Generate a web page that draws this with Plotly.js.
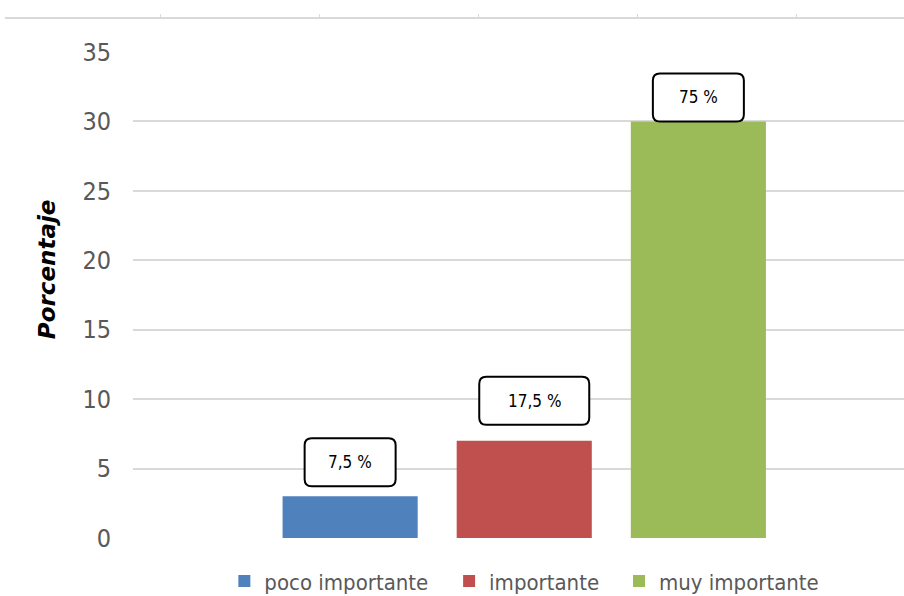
<!DOCTYPE html>
<html>
<head>
<meta charset="utf-8">
<script src="https://cdn.plot.ly/plotly-3.0.1.min.js"></script>
<style>
html,body{margin:0;padding:0;background:#fff;}
#chart{width:904px;height:596px;}
</style>
</head>
<body>
<div id="chart"></div>
<script>
// ---- data ----
var categories = ["poco importante", "importante", "muy importante"];
var values = [3, 7, 30];
var labels = ["7,5 %", "17,5 %", "75 %"];
var yTicks = [0, 5, 10, 15, 20, 25, 30, 35];
var yTitle = "Porcentaje";

// ---- styles ----
var colors = ["#4F81BD", "#C0504D", "#9BBB59"];
var boxW = [91, 110, 91];
var boxH = 48;
var boxGap = [10, 16, 0];
var boxDx = [0, 10, 0];
var legendX = [0.244, 0.494, 0.683];
var narrow = "Liberation Sans Narrow, DejaVu Sans Condensed, Arial Narrow, sans-serif";

var traces = categories.map(function (c, i) {
  return {
    type: "bar",
    name: c,
    x: [i],
    y: [values[i]],
    width: 0.776,
    marker: {color: colors[i]},
    hoverinfo: "none",
    legend: i === 0 ? "legend" : "legend" + (i + 1)
  };
});

function roundRect(w, h, g, dx, r) {
  var x0 = dx - w / 2, x1 = dx + w / 2, y0 = g, y1 = g + h;
  return "M" + (x0 + r) + "," + y0 +
    " L" + (x1 - r) + "," + y0 + " Q" + x1 + "," + y0 + " " + x1 + "," + (y0 + r) +
    " L" + x1 + "," + (y1 - r) + " Q" + x1 + "," + y1 + " " + (x1 - r) + "," + y1 +
    " L" + (x0 + r) + "," + y1 + " Q" + x0 + "," + y1 + " " + x0 + "," + (y1 - r) +
    " L" + x0 + "," + (y0 + r) + " Q" + x0 + "," + y0 + " " + (x0 + r) + "," + y0 + " Z";
}

var shapes = [], annotations = [];
categories.forEach(function (c, i) {
  shapes.push({
    type: "path",
    xref: "x", yref: "y",
    xsizemode: "pixel", ysizemode: "pixel",
    xanchor: i, yanchor: values[i],
    path: roundRect(boxW[i], boxH, boxGap[i], boxDx[i], 7),
    line: {color: "#000", width: 2},
    fillcolor: "#fff",
    layer: "above"
  });
  annotations.push({
    x: i, y: values[i], xref: "x", yref: "y",
    text: labels[i], showarrow: false,
    xanchor: "center", yanchor: "middle",
    xshift: boxDx[i], yshift: boxGap[i] + boxH / 2,
    font: {family: narrow, size: 17, color: "#000"}
  });
});

// y-axis title (rotated annotation; in the reference it sits above the plot centre)
annotations.push({
  xref: "paper", yref: "paper", x: 0.0467, y: 0.517,
  xanchor: "center", yanchor: "middle", textangle: -90, showarrow: false,
  text: "<b><i>" + yTitle + "</i></b>",
  font: {family: "DejaVu Sans, sans-serif", size: 23, color: "#000"}
});

var legendBase = {
  orientation: "h", xanchor: "left", yanchor: "middle", y: -0.083,
  font: {family: narrow, size: 22, color: "#595959"},
  bgcolor: "rgba(0,0,0,0)", itemclick: false, itemdoubleclick: false
};
function leg(i) { var o = Object.assign({}, legendBase); o.x = legendX[i]; return o; }

var layout = {
  width: 904, height: 596,
  margin: {l: 5, r: 0, t: 18, b: 58, pad: 0, autoexpand: false},
  paper_bgcolor: "#fff", plot_bgcolor: "rgba(0,0,0,0)",
  barmode: "overlay",
  showlegend: true,
  legend: leg(0), legend2: leg(1), legend3: leg(2),
  xaxis: {
    domain: [128 / 899, 1],
    range: [-1.247, 3.181],
    showticklabels: false, showgrid: false, zeroline: false, showline: false,
    fixedrange: true
  },
  xaxis2: {
    domain: [0, 1], anchor: "free", position: 1, side: "top",
    range: [0.0252, 5.679], tickvals: [1, 2, 3, 4, 5],
    showticklabels: false, showgrid: false, zeroline: false,
    showline: true, linecolor: "#d9d9d9", linewidth: 2,
    ticks: "outside", ticklen: 3, tickcolor: "#d9d9d9", tickwidth: 1,
    fixedrange: true
  },
  yaxis: {
    domain: [0, 486 / 520],
    range: [0, 35], tickvals: yTicks,
    showgrid: true, gridcolor: "#d9d9d9", gridwidth: 2,
    zeroline: false, showline: false,
    ticklabelstandoff: 21,
    tickfont: {family: narrow, size: 25, color: "#595959"},
    fixedrange: true
  },
  yaxis2: {
    domain: [0.995, 1], anchor: "x2", visible: false, range: [0, 1], fixedrange: true
  },
  shapes: shapes,
  annotations: annotations
};

// empty trace on xaxis2 so the decorative top axis is drawn
traces.push({type: "scatter", x: [], y: [], xaxis: "x2", yaxis: "y2", showlegend: false, hoverinfo: "none"});

Plotly.newPlot("chart", traces, layout, {displayModeBar: false, staticPlot: true});
</script>
</body>
</html>
